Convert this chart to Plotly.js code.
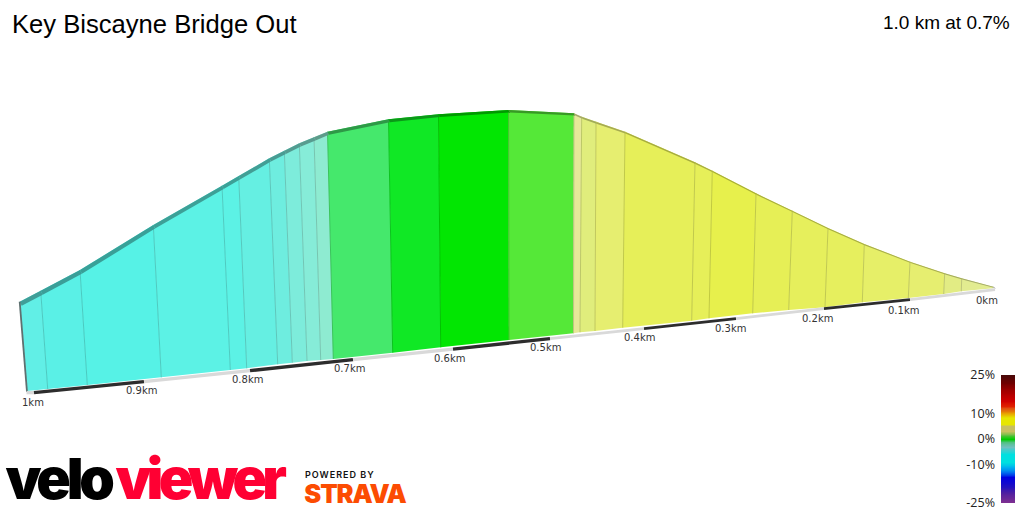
<!DOCTYPE html>
<html><head><meta charset="utf-8">
<script src="https://cdn.plot.ly/plotly-3.0.1.min.js"></script>
<style>
html,body{margin:0;padding:0;background:#fff}
#chart{width:1024px;height:512px}
.annotation[data-index="13"] text{letter-spacing:-4.2px}
.annotation[data-index="14"] text{letter-spacing:-4.8px}
.annotation[data-index="15"] text{letter-spacing:1px}
.annotation[data-index="16"] text{letter-spacing:-1.1px}
</style></head><body><div id="chart"></div>
<script>
const chartTitle = "Key Biscayne Bridge Out";
const summaryText = "1.0 km at 0.7%";
const topX = [19.7,40.7,80,153.3,222,238.7,269.3,284.3,299.3,314,327.5,388.5,438.5,508.5,574,581.7,596,625,695,712.3,756,792.3,828,864.3,910,944.7,961.7,993.3];
const topY = [301.7,290.8,270,225,185.7,176,158.3,150.7,143.3,137.3,131.8,119.3,114.3,110,113.2,116.7,121.7,131.7,162.3,170.7,193.3,210.7,228,244,261.7,273.3,278.3,286.7];
const baseX = [27,47.7,87.3,161.3,230.3,246.7,277.7,292.3,307,320.7,333.3,392.7,440.7,509,573.5,580,595,622.7,691.7,709,752.7,788.7,825,862.3,908.3,943.7,961.3,993.3];
const baseY = [391,389,385,377.3,370,368.3,364.3,362.7,361,360,359,352.7,347.3,340,333.3,332.3,331,327.7,320.7,318.3,313.3,310,307.3,302.3,298,294,291.3,288.3];
const segmentColors = ["#61efe6","#5af0e6","#56f2e6","#5cf2e5","#5cf2e5","#65efe2","#6eeddf","#7decdb","#86ecd8","#8eebd1","#45e86c","#10e825","#02e602","#55e838","#e6e899","#e0ed7c","#e6ee70","#e6ef59","#e6ef59","#e7f04c","#e6ef56","#e6ef5c","#e6ef5e","#e6ef68","#e6ee70","#e2ec84","#e2ec90"];
const kmLabels = ["1km","0.9km","0.8km","0.7km","0.6km","0.5km","0.4km","0.3km","0.2km","0.1km","0km"];
const kmMarkX = [34,144,250,353,453,550,644,736,824,910,995];
const kmMarkY = [391,380,369,358,347.5,337,327,317,307,298,288];
const kmLabelX = [33,141,247,349,449,545,639,730,817,903,987];
const kmLabelY = [402,390,379,368,358,347,337,328,318,310,300];
const legendGrades = [25,24,23,22,21,20,19,18,17,16,15,14,13,12,11,10,9,8,7,6,5,4,3,2,1,0,-1,-2,-3,-4,-5,-6,-7,-8,-9,-10,-11,-12,-13,-14,-15,-16,-17,-18,-19,-20,-21,-22,-23,-24,-25];
const legendTicks = [25,10,0,-10,-25];
const legendStopGrades = [-25,-21,-18.5,-15,-13,-11,-9,-6,-3,-1,0,1.5,3,5,6,8.5,10,12,13,15,19,22,25];
const legendStopColors = ["#803090","#5020a0","#2010c0","#0000e0","#0070f0","#00b0f0","#00e0e0","#00e0e0","#70c0c0","#50c080","#00cc00","#60c040","#c8c060","#c8c060","#e6e600","#e6e600","#e8a000","#e05010","#e02000","#d00000","#a00000","#700000","#4a0808"];

function shade(hex,f){
  const n=parseInt(hex.slice(1),16);
  const r=Math.round((n>>16&255)*f),g=Math.round((n>>8&255)*f),b=Math.round((n&255)*f);
  return `rgb(${r},${g},${b})`;
}
const poly=(x,y,color)=>({type:'scatter',mode:'lines',x,y,fill:'toself',fillcolor:color,line:{width:0,color:color},hoverinfo:'skip',showlegend:false});
const seg=(x,y,color,w)=>({type:'scatter',mode:'lines',x,y,line:{width:w,color:color},hoverinfo:'skip',showlegend:false});

const ridgeDepth=i=>4-3*(topX[i]-topX[0])/(topX[27]-topX[0]);
const traces=[];
for(let i=0;i<segmentColors.length;i++){
  traces.push(poly([topX[i],topX[i+1],baseX[i+1],baseX[i],topX[i]],[topY[i],topY[i+1],baseY[i+1],baseY[i],topY[i]],segmentColors[i]));
}
for(let i=1;i<segmentColors.length;i++){
  traces.push(seg([topX[i],baseX[i]],[topY[i],baseY[i]],shade(segmentColors[i],0.84),1));
}
for(let i=0;i<segmentColors.length;i++){
  const a=ridgeDepth(i),b=ridgeDepth(i+1);
  traces.push(poly([topX[i],topX[i+1],topX[i+1]+b*0.5,topX[i]+a*0.5,topX[i]],[topY[i],topY[i+1],topY[i+1]+b,topY[i]+a,topY[i]],shade(segmentColors[i],i>13?0.72:0.66)));
}
traces.push(seg([topX[0],baseX[0]],[topY[0],baseY[0]+1],'#5f7070',1.8));
traces.push(seg([topX[27],995],[topY[27],288.5],'#999',1));
traces.push(seg([26.5,kmMarkX[0]],[392.6,kmMarkY[0]+1.6],'#d9d9d9',3.4));
for(let k=0;k<kmMarkX.length-1;k++){
  traces.push(seg([kmMarkX[k],kmMarkX[k+1]],[kmMarkY[k]+1.6,kmMarkY[k+1]+1.6],k%2===0?'#2d2d2d':'#d9d9d9',k<5?3.4:2.8));
}
traces.push({type:'heatmap',x:[0,1],y:legendGrades,z:legendGrades.map(g=>[g,g]),xaxis:'x2',yaxis:'y2',zmin:-25,zmax:25,
  colorscale:legendStopGrades.map((g,i)=>[(g+25)/50,legendStopColors[i]]),showscale:false,hoverinfo:'skip',zsmooth:'best'});

const annotations=kmLabels.map((t,i)=>({text:t,x:kmLabelX[i],y:kmLabelY[i],xref:'x',yref:'y',showarrow:false,xanchor:'center',yanchor:'middle',
  font:{family:'DejaVu Sans',size:10,color:'#333'}}));
const free=(text,x,y,xanchor,font)=>({text,x,y,xref:'x',yref:'y',showarrow:false,xanchor,yanchor:'middle',font,borderpad:0});
annotations.push(free(summaryText,1011,22,'right',{family:'Liberation Sans',size:19,color:'#000'}));
annotations.push(free(chartTitle,11,24,'left',{family:'Liberation Sans',size:25.6,color:'#000'}));
annotations.push(free('velo',58,478,'center',{family:'Inter',size:57,color:'#000',weight:900}));
annotations.push(free('viewer',199,478,'center',{family:'Inter',size:57,color:'#ff0033',weight:900}));
annotations.push(free('POWERED BY',309,474,'left',{family:'Inter',size:9,color:'#111',weight:600}));
annotations.push(free('STRAVA',300,493,'left',{family:'Inter',size:25.5,color:'#fc4c02',weight:900}));

const layout={width:1024,height:512,margin:{l:0,r:0,t:0,b:0},paper_bgcolor:'#fff',plot_bgcolor:'#fff',showlegend:false,
  xaxis:{range:[0,1024],visible:false,domain:[0,1],fixedrange:true},
  yaxis:{range:[512,0],visible:false,domain:[0,1],fixedrange:true},
  xaxis2:{range:[0,1],visible:false,domain:[1001/1024,1015/1024],anchor:'y2',fixedrange:true},
  yaxis2:{range:[-25,25],domain:[9/512,137/512],anchor:'x2',side:'left',tickvals:legendTicks,ticktext:legendTicks.map(v=>v+'%'),
    ticks:'',showgrid:false,zeroline:false,showline:false,fixedrange:true,ticklabelstandoff:5,
    tickfont:{family:'Open Sans',size:12.5,color:'#222'}},
  annotations};
Plotly.newPlot('chart',traces,layout,{staticPlot:true,displayModeBar:false});
</script></body></html>
